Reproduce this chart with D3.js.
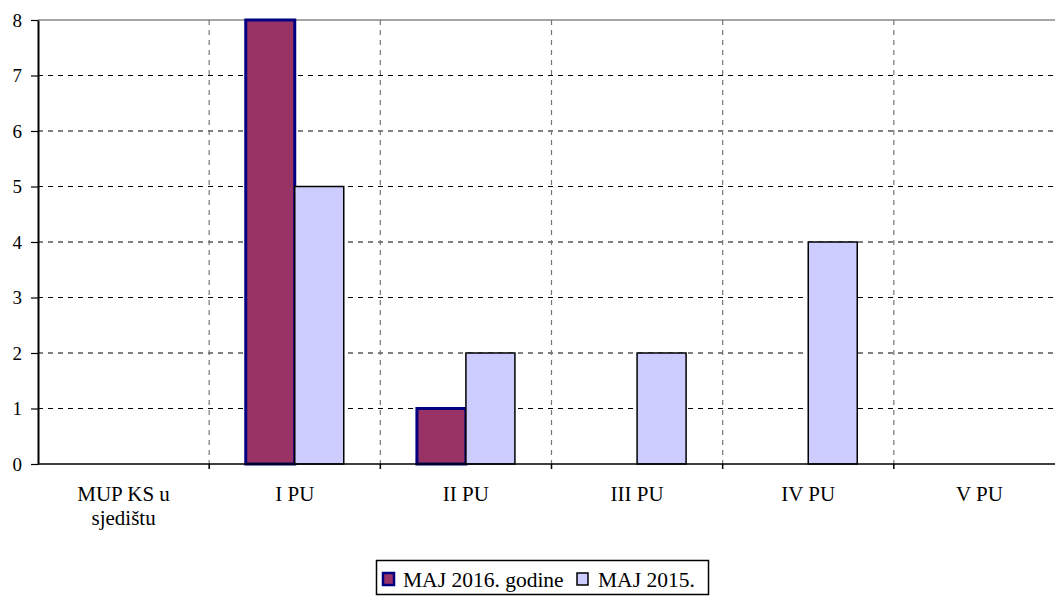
<html><head><meta charset="utf-8">
<script src="https://d3js.org/d3.v7.min.js"></script>
<style>
body { margin: 0; background: #fff; }
</style>
</head><body>
<div id="chart"></div>
<script>
// data
var categories = [["MUP KS u", "sjedištu"], ["I PU"], ["II PU"], ["III PU"], ["IV PU"], ["V PU"]];
var seriesNames = ["MAJ 2016. godine", "MAJ 2015."];
var values2016 = [0, 8, 1, 0, 0, 0];
var values2015 = [0, 5, 2, 2, 4, 0];
var yTicks = [0, 1, 2, 3, 4, 5, 6, 7, 8];

var fills = ["#993366", "#ccccff"];
var strokes = ["#000080", "#000000"];
var strokeW = [3, 1.5];
var serif = "'Liberation Serif'";

var W = 1055, H = 596;
var margin = { top: 20, left: 38 };
var plotW = 1027, plotH = 444; // plot runs past the right edge, like the source

var svg = d3.select("#chart").append("svg")
    .attr("width", W).attr("height", H);

var idx = d3.range(categories.length);
var x = d3.scaleBand().domain(idx).range([margin.left, margin.left + plotW]);
var y = d3.scaleLinear().domain([0, 8]).range([margin.top + plotH, margin.top]);

// horizontal grid
svg.append("g").selectAll("line")
    .data(yTicks.filter(d => d > 0))
    .join("line")
    .attr("x1", margin.left).attr("x2", margin.left + plotW)
    .attr("y1", d => y(d)).attr("y2", d => y(d))
    .attr("stroke", d => d == 8 ? "#888" : "#000")
    .attr("stroke-width", d => d == 8 ? 1.5 : 1)
    .attr("stroke-dasharray", d => d == 8 ? null : "5,5");

// vertical grid at category boundaries
svg.append("g").selectAll("line")
    .data(idx.slice(1))
    .join("line")
    .attr("x1", d => x(d)).attr("x2", d => x(d))
    .attr("y1", y(8)).attr("y2", y(0))
    .attr("stroke", "#777")
    .attr("stroke-width", 1.2)
    .attr("stroke-dasharray", "5,5");

// bars
var barW = 49;
var series = [values2016, values2015];
series.forEach(function (vals, s) {
    svg.append("g").selectAll("rect")
        .data(idx.filter(i => vals[i] > 0))
        .join("rect")
        .attr("x", i => x(i) + x.bandwidth() / 2 - barW + s * barW)
        .attr("y", i => y(vals[i]))
        .attr("width", barW)
        .attr("height", i => y(0) - y(vals[i]))
        .attr("fill", fills[s])
        .attr("stroke", strokes[s])
        .attr("stroke-width", strokeW[s]);
});

// y axis
var yAxis = svg.append("g")
    .attr("transform", `translate(${margin.left},0)`)
    .call(d3.axisLeft(y).tickValues(yTicks).tickSize(7).tickSizeOuter(0).tickFormat(d3.format("d")));
yAxis.select(".domain").attr("stroke", "#000").attr("stroke-width", 2);
yAxis.selectAll(".tick line").attr("stroke", "#000").attr("stroke-width", 1.2);
yAxis.selectAll(".tick text")
    .attr("x", -16)
    .attr("dy", "0.33em")
    .attr("fill", "#000")
    .style("font-family", serif)
    .style("font-size", "19px");

// x axis
svg.append("line")
    .attr("x1", margin.left).attr("x2", margin.left + plotW)
    .attr("y1", y(0)).attr("y2", y(0))
    .attr("stroke", "#000").attr("stroke-width", 1.5);
svg.append("g").selectAll("line")
    .data(idx.slice(1))
    .join("line")
    .attr("x1", d => x(d)).attr("x2", d => x(d))
    .attr("y1", y(0)).attr("y2", y(0) + 5)
    .attr("stroke", "#000").attr("stroke-width", 1.5);

svg.append("g").selectAll("text")
    .data(idx)
    .join("text")
    .attr("text-anchor", "middle")
    .style("font-family", serif)
    .style("font-size", "21px")
    .attr("fill", "#000")
    .each(function (i) {
        var t = d3.select(this);
        categories[i].forEach(function (line, k) {
            t.append("tspan")
                .attr("x", x(i) + x.bandwidth() / 2)
                .attr("y", 501 + k * 24)
                .text(line);
        });
    });

// legend
var lg = svg.append("g");
lg.append("rect")
    .attr("x", 376.5).attr("y", 560.5).attr("width", 332).attr("height", 34)
    .attr("fill", "#fff").attr("stroke", "#000").attr("stroke-width", 1.5);
var legX = [383, 577];
seriesNames.forEach(function (name, s) {
    lg.append("rect")
        .attr("x", legX[s]).attr("y", 573)
        .attr("width", 11).attr("height", 12)
        .attr("fill", fills[s])
        .attr("stroke", strokes[s])
        .attr("stroke-width", s == 0 ? 2.5 : 1.5);
    lg.append("text")
        .attr("x", legX[s] + (s == 0 ? 20 : 21)).attr("y", 587)
        .style("font-family", serif)
        .style("font-size", "21.5px")
        .attr("fill", "#000")
        .text(name);
});
</script>
</body></html>
